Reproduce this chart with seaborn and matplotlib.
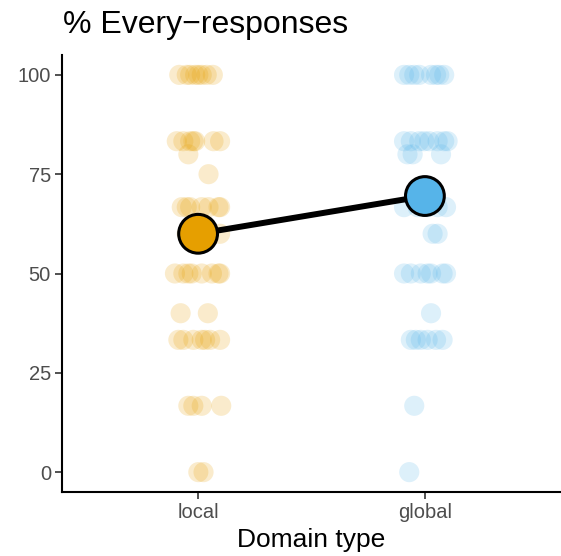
import numpy as np
import pandas as pd
import matplotlib
matplotlib.use("Agg")
import matplotlib.pyplot as plt
import seaborn as sns

# categories and colours
domains = ["local", "global"]
colors = {"local": "#E69F00", "global": "#56B4E9"}

# individual responses (% every-responses)
local_values = [100, 100, 100, 100, 100, 100, 100, 100,
                83.3, 83.3, 83.3, 83.3, 83.3, 83.3, 83.3,
                80, 75,
                66.7, 66.7, 66.7, 66.7, 66.7, 66.7, 66.7,
                60, 60,
                50, 50, 50, 50, 50, 50, 50, 50,
                40, 40,
                33.3, 33.3, 33.3, 33.3, 33.3, 33.3, 33.3,
                16.7, 16.7, 16.7, 16.7,
                0, 0]
# horizontal jitter of each point (category units)
local_jitter = [-0.083, -0.050, -0.035, -0.013, 0.001, 0.016, 0.038, 0.065,
                -0.094, -0.065, -0.035, -0.021, -0.013, 0.068, 0.097,
                -0.043, 0.046,
                -0.072, -0.050, -0.035, 0.016, 0.046, 0.090, 0.097,
                -0.050, 0.097,
                -0.102, -0.065, -0.043, -0.028, 0.016, 0.061, 0.090, 0.097,
                -0.077, 0.043,
                -0.087, -0.065, -0.021, 0.016, 0.031, 0.053, 0.097,
                -0.043, -0.021, 0.016, 0.102,
                0.001, 0.024]

global_values = [100, 100, 100, 100, 100, 100, 100, 100,
                 83.3, 83.3, 83.3, 83.3, 83.3, 83.3, 83.3, 83.3,
                 80, 80, 80,
                 66.7, 66.7, 66.7, 66.7, 66.7,
                 60, 60,
                 50, 50, 50, 50, 50, 50, 50,
                 40,
                 33.3, 33.3, 33.3, 33.3, 33.3, 33.3,
                 16.7,
                 0]
global_jitter = [-0.092, -0.069, -0.047, -0.025, 0.027, 0.049, 0.063, 0.085,
                 -0.092, -0.062, -0.025, -0.003, 0.019, 0.056, 0.085, 0.100,
                 -0.077, -0.054, 0.071,
                 -0.092, -0.032, 0.012, 0.056, 0.093,
                 0.034, 0.056,
                 -0.092, -0.062, -0.018, 0.012, 0.027, 0.078, 0.093,
                 0.027,
                 -0.062, -0.040, -0.018, 0.012, 0.049, 0.078,
                 -0.047,
                 -0.069]

# group means
mean_values = [60.0, 69.5]

yticks = [0, 25, 50, 75, 100]

sns.set_theme(style="white")
plt.rcParams["font.family"] = ["Liberation Sans", "DejaVu Sans"]

df = pd.DataFrame({
    "domain": ["local"] * len(local_values) + ["global"] * len(global_values),
    "value": local_values + global_values,
    "jitter": local_jitter + global_jitter,
})
df["xpos"] = df["domain"].map({d: i for i, d in enumerate(domains)}) + df["jitter"]

means = pd.DataFrame({"domain": domains, "xpos": range(len(domains)), "value": mean_values})

fig = plt.figure(figsize=(5.61, 5.56), dpi=100)
ax = fig.add_axes([62 / 561, 64 / 556, 499 / 561, 437 / 556])

sns.scatterplot(data=df, x="xpos", y="value", hue="domain", palette=colors,
                s=210, alpha=0.2, edgecolor="none", legend=False, ax=ax, zorder=2)
sns.lineplot(data=means, x="xpos", y="value", color="black", lw=4.3, ax=ax, zorder=3)
sns.scatterplot(data=means, x="xpos", y="value", hue="domain", palette=colors,
                s=780, edgecolor="black", linewidth=2.2, legend=False, ax=ax, zorder=4)

ax.set_xlim(-0.6, 1.6)
ax.set_ylim(-5, 105)
ax.set_xticks(range(len(domains)))
ax.set_xticklabels(domains)
ax.set_yticks(yticks)
ax.set_xlabel("Domain type", fontsize=19, color="black", labelpad=4)
ax.set_ylabel("")
ax.tick_params(axis="both", labelsize=14.5, labelcolor="#4D4D4D", color="#333333",
               length=5, width=1.2, direction="out", pad=3)
ax.tick_params(left=True, bottom=True)
for side in ["top", "right"]:
    ax.spines[side].set_visible(False)
for side in ["left", "bottom"]:
    ax.spines[side].set_color("black")
    ax.spines[side].set_linewidth(1.5)

fig.text(63 / 561, 1 - 33 / 556, "% Every\u2212responses", fontsize=23,
         ha="left", va="baseline", color="black")

fig.savefig("out.png", dpi=100)
